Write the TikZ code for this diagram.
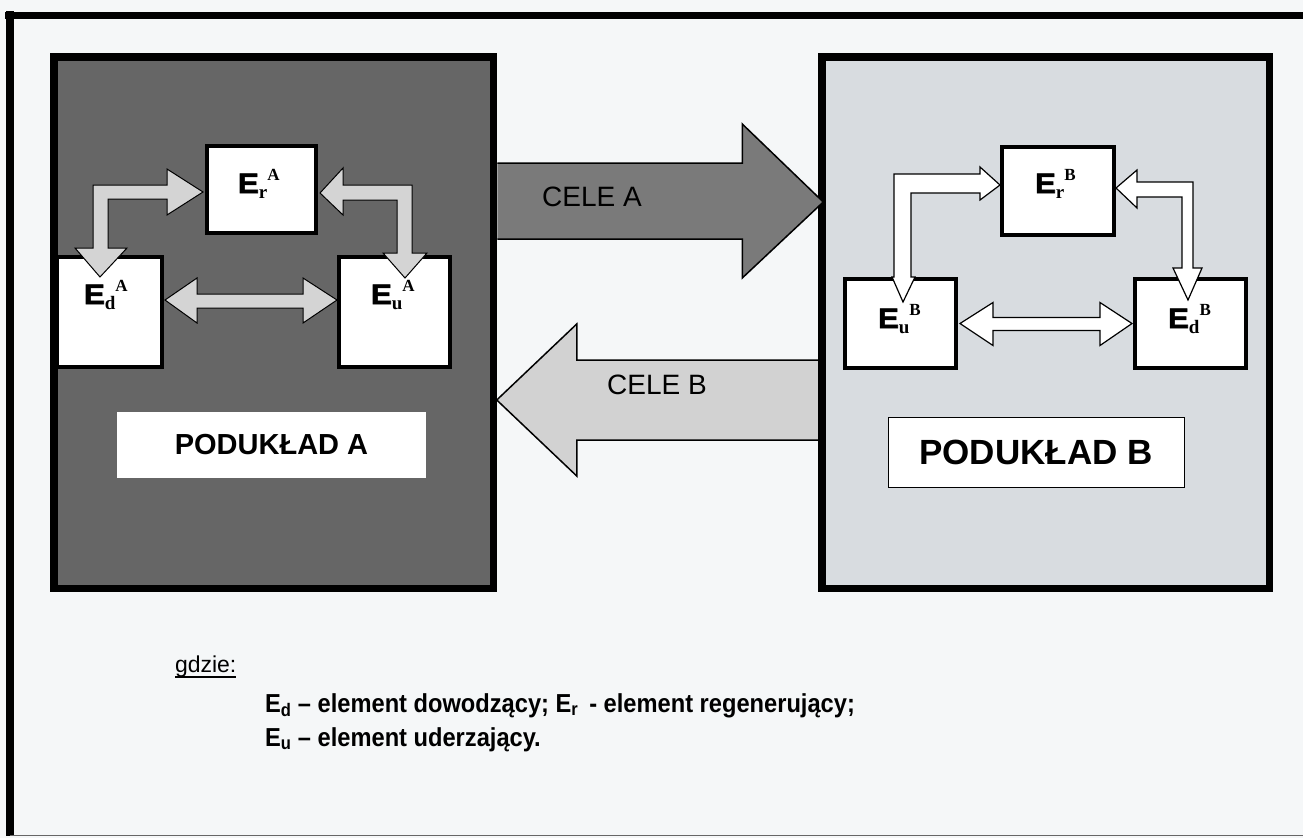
\documentclass[tikz,border=0pt]{standalone}
\usepackage{fontspec}
\setmainfont{Liberation Sans}
\newfontfamily\serifb{Liberation Serif}
\newfontfamily\heavysans[BoldFeatures={FakeBold=2.5,FakeStretch=1.12}]{Liberation Sans}
\newfontfamily\narrowsans[FakeStretch=0.91]{Liberation Sans}
\usetikzlibrary{calc}

\definecolor{paper}{HTML}{F5F7F8}
\definecolor{darkfill}{HTML}{666666}
\definecolor{lightfill}{HTML}{D8DCE0}
\definecolor{celeA}{HTML}{7A7A7A}
\definecolor{celeB}{HTML}{D2D2D2}
\definecolor{linkA}{HTML}{D4D4D4}

% element label: heavy sans E, serif subscript and superscript
\newcommand\elab[3]{{\heavysans\bfseries\fontsize{28}{28}\selectfont #1}%
  {\serifb\bfseries\fontsize{19}{19}\selectfont\raisebox{-5pt}{#2}}%
  {\serifb\bfseries\fontsize{17}{17}\selectfont\raisebox{13pt}{#3}}}

\tikzset{
  x=1pt, y=-1pt,
  every node/.style={inner sep=0pt, outer sep=0pt},
  subsys/.style={draw=black, line width=7.5pt},
  elembox/.style={draw=black, fill=white, line width=4pt},
  namebox/.style={fill=white},
  elemlabel/.style={anchor=base west},
  linkA/.style={fill=linkA, draw=black, line width=1pt, line join=miter},
  linkB/.style={fill=white, draw=black, line width=1.2pt, line join=miter},
  bigarrow/.style={draw=black, line width=1.5pt, line join=miter},
  celetext/.style={font=\fontsize{28}{28}\selectfont},
  legend/.style={anchor=base west, font=\narrowsans\fontsize{26}{26}\selectfont\bfseries},
}

\begin{document}
\begin{tikzpicture}
\useasboundingbox[fill=paper] (0,0) rectangle (1303,838);

% page frame
\draw[line width=7pt] (5,15) -- (1303,15);
\draw[line width=8pt] (10,11) -- (10,836);
\draw[line width=1pt, black!60] (10,835) -- (1303,835);

% the two subsystems
\node[subsys, fill=darkfill, minimum width=439.5pt, minimum height=531.5pt] (boxA) at (273.5,322.5) {};
\node[subsys, fill=lightfill, minimum width=447.5pt, minimum height=531.5pt] (boxB) at (1045.5,322.5) {};

% element boxes of subsystem A
\node[elembox, minimum width=109pt, minimum height=87pt] (erA) at (261.5,189.5) {};
\node[elembox, minimum width=105pt, minimum height=110pt] (edA) at (109.5,312) {};
\node[elembox, minimum width=111pt, minimum height=110pt] (euA) at (394.5,312) {};

% element boxes of subsystem B
\node[elembox, minimum width=112pt, minimum height=88pt] (erB) at (1058,191) {};
\node[elembox, minimum width=111pt, minimum height=89pt] (euB) at (900.5,323.5) {};
\node[elembox, minimum width=111pt, minimum height=89pt] (edB) at (1190.5,323.5) {};

% links inside subsystem A
\draw[linkA] ($(erA.west)+(-4,2.5)$) -- ++(-36,-23) -- ++(0,16) -- ++(-74,0) -- ++(0,63)
  -- ++(-18,0) -- ++(25,29) -- ++(27,-29) -- ++(-19,0) -- ++(0,-49) -- ++(59,0) -- ++(0,16) -- cycle;
\draw[linkA] ($(erA.east)+(4,3.5)$) -- ++(23,-25) -- ++(0,17) -- ++(69,0) -- ++(0,68)
  -- ++(15,0) -- ++(-22,25) -- ++(-22,-25) -- ++(14,0) -- ++(0,-53) -- ++(-54,0) -- ++(0,15) -- cycle;
\draw[linkA] ($(edA.east)+(3,-12)$) -- ++(32,-22) -- ++(0,16) -- ++(106,0) -- ++(0,-16)
  -- ++(34,22) -- ++(-34,23) -- ++(0,-15) -- ++(-106,0) -- ++(0,15) -- cycle;

% links inside subsystem B
\draw[linkB] ($(erB.west)+(-2,-6)$) -- ++(-20,-18) -- ++(0,7) -- ++(-86,0) -- ++(0,103)
  -- ++(-2,0) -- ++(11,25) -- ++(12,-25) -- ++(-4,0) -- ++(0,-84) -- ++(69,0) -- ++(0,7) -- cycle;
\draw[linkB] ($(erB.east)+(2,-3)$) -- ++(21,-18) -- ++(0,12) -- ++(56,0) -- ++(0,86)
  -- ++(9,0) -- ++(-14,32) -- ++(-15,-32) -- ++(9,0) -- ++(0,-71) -- ++(-45,0) -- ++(0,11) -- cycle;
\draw[linkB] ($(euB.east)+(4,0)$) -- ++(33,-21) -- ++(0,15) -- ++(107,0) -- ++(0,-15)
  -- ++(32,21) -- ++(-32,22) -- ++(0,-15) -- ++(-107,0) -- ++(0,15) -- cycle;

% element labels
\node[elemlabel] (lerA) at (238,193) {\elab{E}{r}{A}};
\node[elemlabel] (ledA) at (84,304) {\elab{E}{d}{A}};
\node[elemlabel] (leuA) at (371,304) {\elab{E}{u}{A}};
\node[elemlabel] (lerB) at (1035,193) {\elab{E}{r}{B}};
\node[elemlabel] (leuB) at (878,328) {\elab{E}{u}{B}};
\node[elemlabel] (ledB) at (1168,328) {\elab{E}{d}{B}};

% goals passed between the subsystems
\fill[celeA] ($(boxA.east)+(4,-159.5)$) -- ++(245,0) -- ++(0,-39) -- ++(81,78) -- ++(-81,76) -- ++(0,-39) -- ++(-245,0) -- cycle;
\draw[bigarrow] ($(boxA.east)+(4,-159.5)$) -- ++(245,0) -- ++(0,-39) -- ++(81,78) -- ++(-81,76) -- ++(0,-39) -- ++(-245,0);
\fill[celeB] ($(boxB.west)+(-4,37.5)$) -- ++(-241,0) -- ++(0,-36) -- ++(-80,76) -- ++(80,76) -- ++(0,-36) -- ++(241,0) -- cycle;
\draw[bigarrow] ($(boxB.west)+(-4,37.5)$) -- ++(-241,0) -- ++(0,-36) -- ++(-80,76) -- ++(80,76) -- ++(0,-36) -- ++(241,0);
\node[celetext] (celeAlbl) at (592,197) {CELE A};
\node[celetext] (celeBlbl) at (657,385) {CELE B};

% subsystem names
\node[namebox, minimum width=309pt, minimum height=66pt] (nameA) at (271.5,445) {};
\node[font=\fontsize{29}{29}\selectfont\bfseries] at (nameA.center) {PODUKŁAD A};
\node[namebox, draw=black, line width=1pt, minimum width=296pt, minimum height=70pt] (nameB) at (1036,452) {};
\node[font=\fontsize{35}{35}\selectfont\bfseries] at (nameB.center) {PODUKŁAD B};

% legend
\node[anchor=base west, font=\fontsize{23}{23}\selectfont] (gdzie) at (175,672) {gdzie:};
\draw[line width=1.2pt] ($(gdzie.base west)+(0,5)$) -- ($(gdzie.base east)+(0,5)$);
\node[legend] (leg1) at (265,712)
  {E\textsubscript{d} – element dowodzący; E\textsubscript{r} \,- element regenerujący;};
\node[legend] (leg2) at (265,746)
  {E\textsubscript{u} – element uderzający.};
\end{tikzpicture}
\end{document}
